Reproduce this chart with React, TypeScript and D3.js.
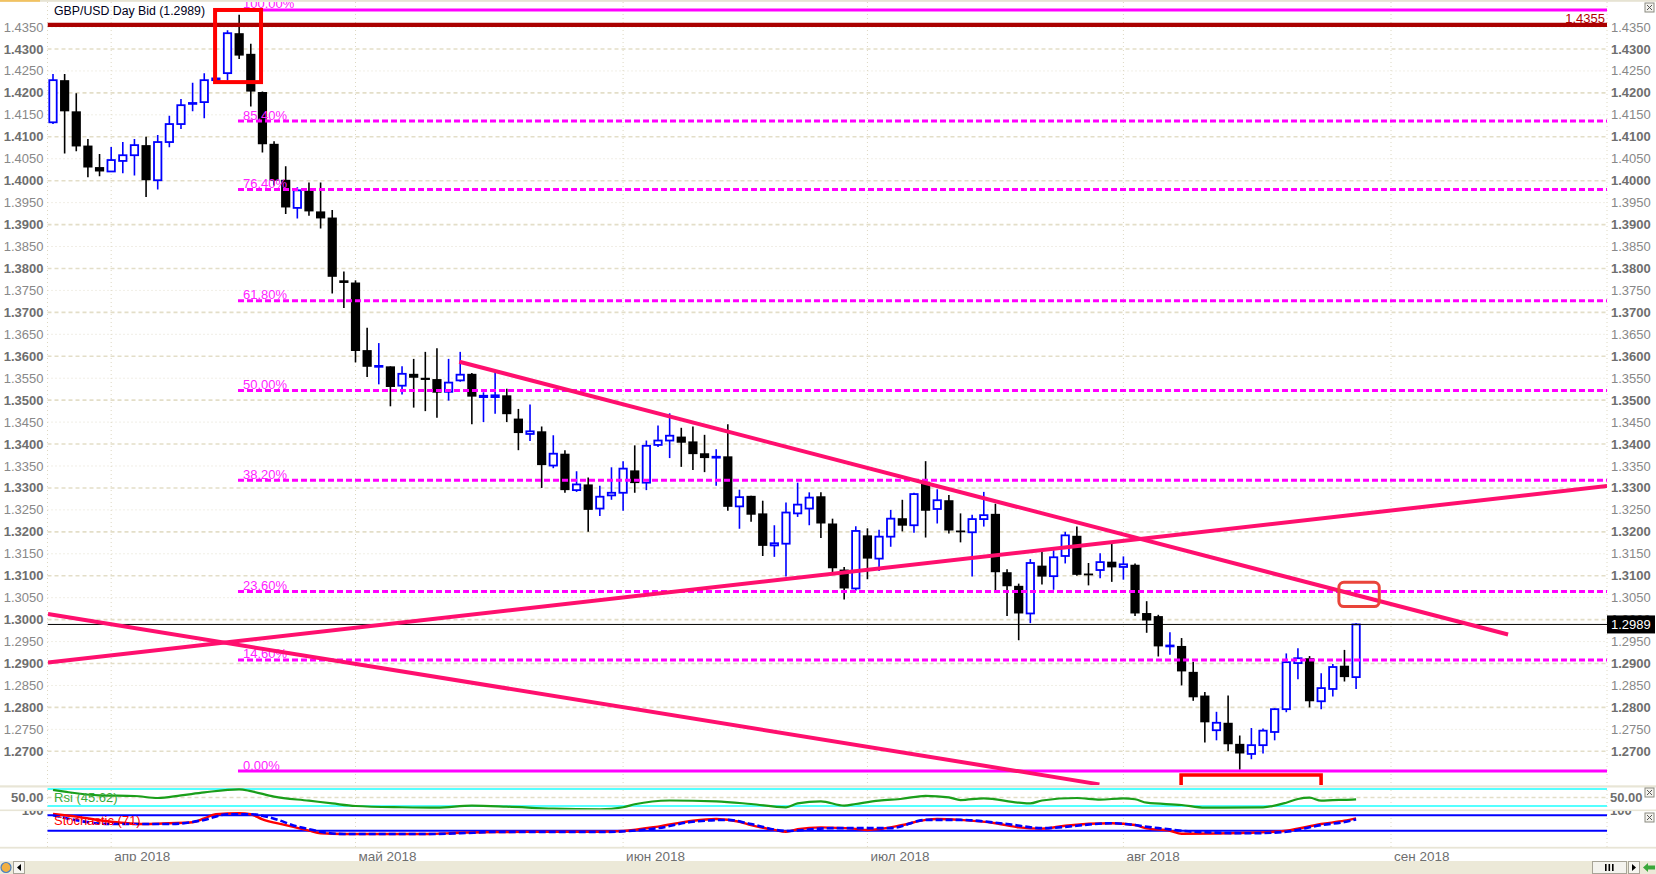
import React from 'react';
import * as d3 from 'd3';

const W = 1656;
const H = 874;

// Daily candles, index 0 = Mon 26 Mar 2018 (weekdays only)
const opens = [1.4133,1.4229,1.4158,1.4080,1.4031,1.4021,1.4045,1.4058,1.4081,1.4001,1.4088,1.4129,1.4175,1.4179,1.4229,1.4245,1.4336,1.4289,1.4202,1.4084,1.4002,1.3938,1.3977,1.3930,1.3916,1.3773,1.3768,1.3614,1.3576,1.3577,1.3533,1.3560,1.3551,1.3548,1.3519,1.3545,1.3560,1.3507,1.3507,1.3511,1.3458,1.3423,1.3429,1.3351,1.3378,1.3295,1.3308,1.3253,1.3283,1.3289,1.3340,1.3312,1.3398,1.3408,1.3417,1.3406,1.3379,1.3369,1.3372,1.3258,1.3282,1.3242,1.3169,1.3173,1.3242,1.3253,1.3281,1.3219,1.3114,1.3071,1.3192,1.3139,1.3189,1.3231,1.3215,1.3314,1.3252,1.3272,1.3203,1.3199,1.3229,1.3241,1.3108,1.3077,1.3014,1.3123,1.3099,1.3145,1.3191,1.3105,1.3113,1.3132,1.3120,1.3125,1.3015,1.3008,1.2939,1.2940,1.2881,1.2827,1.2748,1.2765,1.2717,1.2694,1.2714,1.2744,1.2796,1.2901,1.2912,1.2814,1.2842,1.2895,1.2869];
const highs = [1.4243,1.4243,1.4199,1.4095,1.4061,1.4077,1.4088,1.4095,1.4100,1.4104,1.4148,1.4186,1.4223,1.4245,1.4234,1.4343,1.4378,1.4312,1.4203,1.4090,1.4033,1.3985,1.3996,1.3996,1.3933,1.3793,1.3773,1.3665,1.3630,1.3577,1.3577,1.3594,1.3610,1.3618,1.3594,1.3610,1.3562,1.3518,1.3566,1.3526,1.3480,1.3490,1.3440,1.3420,1.3386,1.3338,1.3324,1.3305,1.3347,1.3361,1.3397,1.3408,1.3442,1.3470,1.3437,1.3440,1.3421,1.3388,1.3445,1.3296,1.3282,1.3271,1.3215,1.3267,1.3312,1.3290,1.3290,1.3230,1.3120,1.3213,1.3208,1.3205,1.3250,1.3273,1.3289,1.3361,1.3297,1.3284,1.3242,1.3239,1.3291,1.3264,1.3115,1.3082,1.3138,1.3155,1.3158,1.3200,1.3212,1.3129,1.3151,1.3174,1.3144,1.3128,1.3042,1.3011,1.2971,1.2958,1.2904,1.2835,1.2790,1.2827,1.2736,1.2753,1.2752,1.2798,1.2923,1.2935,1.2917,1.2878,1.2899,1.2931,1.2992];
const lows = [1.4129,1.4062,1.4067,1.4008,1.4010,1.4021,1.4017,1.4012,1.3963,1.3980,1.4076,1.4118,1.4158,1.4142,1.4227,1.4228,1.4277,1.4169,1.4064,1.3989,1.3924,1.3914,1.3920,1.3891,1.3743,1.3710,1.3586,1.3553,1.3536,1.3486,1.3513,1.3483,1.3475,1.3460,1.3499,1.3542,1.3445,1.3450,1.3469,1.3450,1.3386,1.3407,1.3300,1.3345,1.3289,1.3291,1.3200,1.3236,1.3273,1.3248,1.3289,1.3295,1.3393,1.3368,1.3348,1.3341,1.3336,1.3305,1.3248,1.3207,1.3223,1.3145,1.3143,1.3098,1.3234,1.3215,1.3186,1.3108,1.3046,1.3066,1.3092,1.3111,1.3166,1.3201,1.3198,1.3187,1.3219,1.3196,1.3176,1.3098,1.3212,1.3067,1.3008,1.2953,1.2992,1.3080,1.3068,1.3128,1.3100,1.3078,1.3094,1.3086,1.3091,1.3008,1.2970,1.2916,1.2920,1.2850,1.2815,1.2720,1.2725,1.2700,1.2658,1.2682,1.2695,1.2725,1.2789,1.2864,1.2800,1.2796,1.2825,1.2859,1.2842];
const closes = [1.4229,1.4158,1.4078,1.4030,1.4021,1.4047,1.4058,1.4081,1.4001,1.4088,1.4129,1.4172,1.4177,1.4229,1.4233,1.4336,1.4285,1.4203,1.4083,1.4000,1.3939,1.3978,1.3930,1.3914,1.3781,1.3767,1.3612,1.3576,1.3578,1.3530,1.3560,1.3551,1.3546,1.3517,1.3540,1.3558,1.3508,1.3510,1.3511,1.3468,1.3425,1.3429,1.3352,1.3378,1.3295,1.3308,1.3250,1.3280,1.3289,1.3344,1.3311,1.3396,1.3408,1.3419,1.3403,1.3377,1.3368,1.3371,1.3257,1.3279,1.3239,1.3168,1.3174,1.3244,1.3262,1.3278,1.3219,1.3117,1.3071,1.3202,1.3139,1.3189,1.3230,1.3214,1.3286,1.3248,1.3272,1.3203,1.3199,1.3229,1.3238,1.3108,1.3076,1.3014,1.3129,1.3098,1.3142,1.3192,1.3102,1.3102,1.3131,1.3119,1.3126,1.3014,1.2998,1.2939,1.2941,1.2882,1.2823,1.2766,1.2765,1.2716,1.2695,1.2714,1.2747,1.2796,1.2903,1.2912,1.2814,1.2844,1.2892,1.2869,1.2989];

const monthLabels = ['апр 2018', 'май 2018', 'июн 2018', 'июл 2018', 'авг 2018', 'сен 2018'];
const monthStartIdx = [5, 26, 49, 70, 92, 115];

const fibLevels = [1, 0.854, 0.764, 0.618, 0.5, 0.382, 0.236, 0.146, 0];
const fibLabels = ['100.00%', '85.40%', '76.40%', '61.80%', '50.00%', '38.20%', '23.60%', '14.60%', '0.00%'];
const fibHigh = 1.43889;
const fibLow = 1.2655;
const fibStartIdx = 15.9;

const resistanceLevel = 1.4355;

const trendStartIdx = [34.92, -0.43, -0.43];
const trendStartPrice = [1.35875, 1.29022, 1.30127];
const trendEndIdx = [125.06, 133.57, 89.94];
const trendEndPrice = [1.2966, 1.33043, 1.26247];

const boxIdx = [13.93, 17.88];
const boxPrice = [1.43889, 1.42246];
const targetIdx = [110.52, 113.99];
const targetPrice = [1.30852, 1.30298];
const bracketIdx = [96.96, 108.99];
const bracketPrice = [1.26459, 1.26231];

const rsiIdx = [0,1,4,7,9,11,13,16,17,19,22,24,26,30,33,36,39,43,47,49,50,53,57,60,63,64,66,68,69,71,73,75,77,78,80,83,84,85,88,90,92,93,94,97,99,104,106,107,108,109,110,111,112];
const rsiVal = [67.6,63.7,55,53.5,48.8,55,62,69.3,65,52,42.5,36,30,27,26,30.7,28.4,23.6,22,27,34,43,41,34.7,27,36,41,30.7,34.7,42.5,47,54,50.4,44,48,37.8,36,43,48.8,45,48,45.8,37.8,32.4,26,27,37.8,46.5,49.6,42.5,44,44.5,45.62];

const stochKIdx = [0,2,5,8,10,12,13,14,16,17,18,20,22,23,25,32,35,38,47,49,52,55,57,59,60,62,63,64,66,69,70,73,75,76,78,81,83,85,87,91,93,94,96,97,103,106,109,111,112];
const stochKVal = [85,74.7,55,46,49,52.7,68,84,88,84,64,42,20,10,7,7,12,15,16,19,36,59,65.6,55,42,23,16,25.5,33,27,23,42,62,65.6,62,49,33,28,39.5,49,42,29,20,8,12,20,46,59,68];
const stochDIdx = [0,5,10,13,15,17,19,21,22,23,25,32,35,38,47,52,55,58,60,63,67,72,75,78,82,85,91,95,98,103,106,109,111,112];
const stochDVal = [80,46,46,62,84,84,67,36,26,16,7,7,10,15,15,30,55,62,46,19,30,30,62,62,46,30,49,30,16,10,16,42,54,64];
const stochLabelValue = 71;

const FONT = "'Liberation Sans', Arial, sans-serif";

export default function App() {
  React.useEffect(() => {
    document.body.style.margin = '0';
  }, []);

  const plotL = 47.5;
  const plotR = 1607;
  const mainTop = 2;
  const mainBot = 785;

  const xS = d3.scaleLinear().domain([0, 115]).range([53, 1391]);
  const yS = d3.scaleLinear().domain([1.27, 1.43]).range([751.3, 49]);
  const rsiS = d3.scaleLinear().domain([30, 70]).range([806, 789]);
  const stS = d3.scaleLinear().domain([20, 80]).range([830.7, 815.3]);
  const fmt = d3.format('.4f');

  const priceTicks = d3.range(254, 288).map((k) => ({ p: k / 200, bold: k % 2 === 0 }));

  const candles = opens.map((o, i) => ({ i, o, h: highs[i], l: lows[i], c: closes[i] }));
  const lastClose = closes[closes.length - 1];

  const rsiLine = d3.line<number>().x((d, k) => xS(rsiIdx[k])).y((d) => rsiS(d)).curve(d3.curveMonotoneX);
  const kLine = d3.line<number>().x((d, k) => xS(stochKIdx[k])).y((d) => stS(d)).curve(d3.curveMonotoneX);
  const dLine = d3.line<number>().x((d, k) => xS(stochDIdx[k])).y((d) => stS(d)).curve(d3.curveMonotoneX);

  const fibRange = fibHigh - fibLow;
  const trendColor = '#ff0f6e';
  const gridColor = '#e3dec8';

  const closeBox = (x: number, y: number, key: string) => (
    <g key={key}>
      <rect x={x} y={y} width={9} height={9} fill="#f4f3ee" stroke="#8a8a80" strokeWidth={1} />
      <line x1={x + 2} y1={y + 2} x2={x + 7} y2={y + 7} stroke="#555" strokeWidth={1} />
      <line x1={x + 7} y1={y + 2} x2={x + 2} y2={y + 7} stroke="#555" strokeWidth={1} />
    </g>
  );

  return (
    <svg width={W} height={H} style={{ position: 'absolute', left: 0, top: 0, display: 'block' }} fontFamily={FONT}>
      <defs>
        <clipPath id="mainClip">
          <rect x={plotL} y={mainTop} width={plotR - plotL} height={mainBot - mainTop} />
        </clipPath>
        <clipPath id="rsiClip">
          <rect x={plotL} y={787.5} width={plotR - plotL} height={22} />
        </clipPath>
        <clipPath id="stClip">
          <rect x={plotL} y={811} width={plotR - plotL} height={36} />
        </clipPath>
        <clipPath id="hClip">
          <rect x={0} y={811} width={W} height={36} />
        </clipPath>
      </defs>
      <rect x={0} y={0} width={W} height={H} fill="#ffffff" />
      <rect x={0} y={0} width={W} height={1.8} fill="#e6e3d3" />
      <rect x={0} y={0} width={40} height={1.8} fill="#f2c261" />

      {/* horizontal price grid */}
      {priceTicks.map((t) => (
        <line
          key={'g' + t.p}
          x1={plotL}
          x2={plotR}
          y1={yS(t.p)}
          y2={yS(t.p)}
          stroke={t.bold ? gridColor : '#e2ddcc'}
          strokeWidth={t.bold ? 1.6 : 1}
          strokeDasharray={t.bold ? '4,3' : '1,3'}
        />
      ))}

      {/* month grid */}
      {monthStartIdx.map((m) => (
        <line key={'m' + m} x1={xS(m)} x2={xS(m)} y1={mainTop} y2={848} stroke="#ddd8c2" strokeWidth={1} strokeDasharray="1,3" />
      ))}
      <line x1={plotL} x2={plotL} y1={mainTop} y2={848} stroke="#ddd8c2" strokeWidth={1} strokeDasharray="1,3" />
      <line x1={plotR} x2={plotR} y1={mainTop} y2={848} stroke="#ddd8c2" strokeWidth={1} strokeDasharray="1,3" />

      <g clipPath="url(#mainClip)">
        {/* candles */}
        {candles.map((d) => {
          const x = xS(d.i);
          const up = d.c >= d.o;
          const col = up ? '#0000ff' : '#000000';
          const yTop = yS(Math.max(d.o, d.c));
          const yBot = yS(Math.min(d.o, d.c));
          const hBody = Math.max(yBot - yTop, up ? 0.8 : 1.8);
          return (
            <g key={'c' + d.i}>
              <line x1={x} x2={x} y1={yS(d.h)} y2={yS(d.l)} stroke={col} strokeWidth={1.6} />
              {up ? (
                <rect x={x - 3.7} y={yTop} width={7.4} height={hBody} fill="#ffffff" stroke={col} strokeWidth={1.8} />
              ) : (
                <rect x={x - 4.6} y={yTop} width={9.2} height={hBody} fill="#000000" />
              )}
            </g>
          );
        })}

        {/* current price line */}
        <line x1={plotL} x2={plotR} y1={yS(lastClose)} y2={yS(lastClose)} stroke="#000" strokeWidth={1} />

        {/* fibonacci */}
        {fibLevels.map((lv, k) => {
          const y = yS(fibLow + lv * fibRange);
          const solid = lv === 0 || lv === 1;
          return (
            <g key={'f' + k}>
              <line
                x1={xS(fibStartIdx)}
                x2={plotR}
                y1={y}
                y2={y}
                stroke="#ff00ff"
                strokeWidth={3}
                strokeDasharray={solid ? undefined : '6,3'}
              />
              <text x={xS(fibStartIdx) + 5} y={y - 1.5} fontSize={13} fill="#ff22ff">
                {fibLabels[k]}
              </text>
            </g>
          );
        })}

        {/* resistance */}
        <line x1={plotL} x2={plotR} y1={yS(resistanceLevel)} y2={yS(resistanceLevel)} stroke="#aa0000" strokeWidth={4.4} />

        {/* trend lines */}
        {trendStartIdx.map((s, k) => (
          <line
            key={'t' + k}
            x1={xS(s)}
            y1={yS(trendStartPrice[k])}
            x2={xS(trendEndIdx[k])}
            y2={yS(trendEndPrice[k])}
            stroke={trendColor}
            strokeWidth={4}
          />
        ))}

        {/* red box around the top */}
        <rect
          x={xS(boxIdx[0])}
          y={yS(boxPrice[0])}
          width={xS(boxIdx[1]) - xS(boxIdx[0])}
          height={yS(boxPrice[1]) - yS(boxPrice[0])}
          fill="none"
          stroke="#ff0000"
          strokeWidth={4}
        />
        {/* target box */}
        <rect
          x={xS(targetIdx[0])}
          y={yS(targetPrice[0])}
          width={xS(targetIdx[1]) - xS(targetIdx[0])}
          height={yS(targetPrice[1]) - yS(targetPrice[0])}
          rx={5}
          fill="none"
          stroke="#e9443a"
          strokeWidth={3}
        />
      </g>

      <text x={54} y={14.5} fontSize={12.3} fill="#000020">{`GBP/USD Day Bid (${fmt(lastClose)})`}</text>
      <text x={1605} y={22.5} fontSize={13} fill="#b00000" textAnchor="end">{fmt(resistanceLevel)}</text>

      {/* bracket at the low */}
      <path
        d={`M${xS(bracketIdx[0])},${yS(bracketPrice[1])} V${yS(bracketPrice[0])} H${xS(bracketIdx[1])} V${yS(bracketPrice[1])}`}
        fill="none"
        stroke="#ff0000"
        strokeWidth={3.6}
      />

      {/* price axis labels */}
      {priceTicks.map((t) => (
        <g key={'l' + t.p}>
          <text
            x={43.5}
            y={yS(t.p)}
            dy="0.35em"
            textAnchor="end"
            fontSize={13}
            fontWeight={t.bold ? 'bold' : 'normal'}
            fill={t.bold ? '#6e6e6e' : '#888888'}
          >
            {fmt(t.p)}
          </text>
          <text
            x={1611}
            y={yS(t.p)}
            dy="0.35em"
            fontSize={13}
            fontWeight={t.bold ? 'bold' : 'normal'}
            fill={t.bold ? '#6e6e6e' : '#888888'}
          >
            {fmt(t.p)}
          </text>
        </g>
      ))}

      {/* current price tag */}
      <rect x={1607} y={yS(lastClose) - 9} width={48} height={18} fill="#000" />
      <text x={1611} y={yS(lastClose)} dy="0.36em" fontSize={13} fill="#ffffff">{fmt(lastClose)}</text>

      {/* panel separators */}
      <rect x={0} y={785.3} width={W} height={2.2} fill="#e8e5d6" />
      <rect x={0} y={809.5} width={W} height={1.6} fill="#e8e5d6" />
      <rect x={0} y={846.8} width={W} height={1.8} fill="#e8e5d6" />

      {/* RSI panel */}
      <line x1={plotL} x2={plotR} y1={rsiS(50)} y2={rsiS(50)} stroke={gridColor} strokeWidth={1.6} strokeDasharray="4,3" />
      <line x1={plotL} x2={plotR} y1={rsiS(70)} y2={rsiS(70)} stroke="#55ffff" strokeWidth={2} />
      <line x1={plotL} x2={plotR} y1={rsiS(30)} y2={rsiS(30)} stroke="#55ffff" strokeWidth={2} />
      <g clipPath="url(#rsiClip)">
        <path d={rsiLine(rsiVal) || ''} fill="none" stroke="#1a9e1a" strokeWidth={2.2} />
      </g>
      <text x={54} y={rsiS(50)} dy="0.35em" fontSize={13} fill="#3aaa3a">{`Rsi (${rsiVal[rsiVal.length - 1].toFixed(2)})`}</text>
      <text x={43.5} y={rsiS(50)} dy="0.35em" textAnchor="end" fontSize={13} fontWeight="bold" fill="#6e6e6e">50.00</text>
      <text x={1610} y={rsiS(50)} dy="0.35em" fontSize={13} fontWeight="bold" fill="#6e6e6e">50.00</text>

      {/* Stochastic panel */}
      <line x1={plotL} x2={plotR} y1={stS(80)} y2={stS(80)} stroke="#0000ff" strokeWidth={2} />
      <line x1={plotL} x2={plotR} y1={stS(20)} y2={stS(20)} stroke="#0000ff" strokeWidth={2} />
      <g clipPath="url(#stClip)">
        <path d={kLine(stochKVal) || ''} fill="none" stroke="#ff0000" strokeWidth={2.4} />
        <path d={dLine(stochDVal) || ''} fill="none" stroke="#0000ff" strokeWidth={2.6} strokeDasharray="7,3" />
      </g>
      <g clipPath="url(#hClip)">
        <text x={43.5} y={stS(100)} dy="0.35em" textAnchor="end" fontSize={13} fontWeight="bold" fill="#6e6e6e">100</text>
        <text x={1610} y={stS(100)} dy="0.35em" fontSize={13} fontWeight="bold" fill="#6e6e6e">100</text>
      </g>
      <text x={54} y={820} dy="0.35em" fontSize={13} fill="#ff0000">{`Stochastic (${stochLabelValue})`}</text>

      {/* close boxes */}
      {closeBox(1645, 3, 'x1')}
      {closeBox(1645, 788, 'x2')}
      {closeBox(1645, 813, 'x3')}

      {/* date axis */}
      {monthStartIdx.map((m, k) => (
        <text key={'d' + m} x={xS(m) + 3} y={860.5} fontSize={13.5} fill="#6e6e6e">
          {monthLabels[k]}
        </text>
      ))}

      {/* scrollbar */}
      <rect x={0} y={861} width={W} height={13} fill="#ece9d8" />
      <circle cx={6} cy={867.5} r={5} fill="#f2b040" stroke="#4a7fc0" strokeWidth={1.2} />
      <rect x={13.5} y={861.5} width={11} height={12} fill="#f7f6f1" stroke="#a7a497" strokeWidth={1} />
      <path d="M21,864 L17,867.5 L21,871 Z" fill="#000" />
      <rect x={1592.5} y={861.5} width={34} height={12} fill="#f4f3ee" stroke="#a7a497" strokeWidth={1} />
      <rect x={1605} y={864} width={1.6} height={7} fill="#000" />
      <rect x={1608.5} y={864} width={1.6} height={7} fill="#000" />
      <rect x={1612} y={864} width={1.6} height={7} fill="#000" />
      <rect x={1628.5} y={861.5} width={11} height={12} fill="#f7f6f1" stroke="#a7a497" strokeWidth={1} />
      <path d="M1632,864 L1636,867.5 L1632,871 Z" fill="#000" />
      <path d="M1643,867.5 L1648,863 L1648,865.5 L1655,865.5 L1655,869.5 L1648,869.5 L1648,872 Z" fill="#3aa83a" />
    </svg>
  );
}
